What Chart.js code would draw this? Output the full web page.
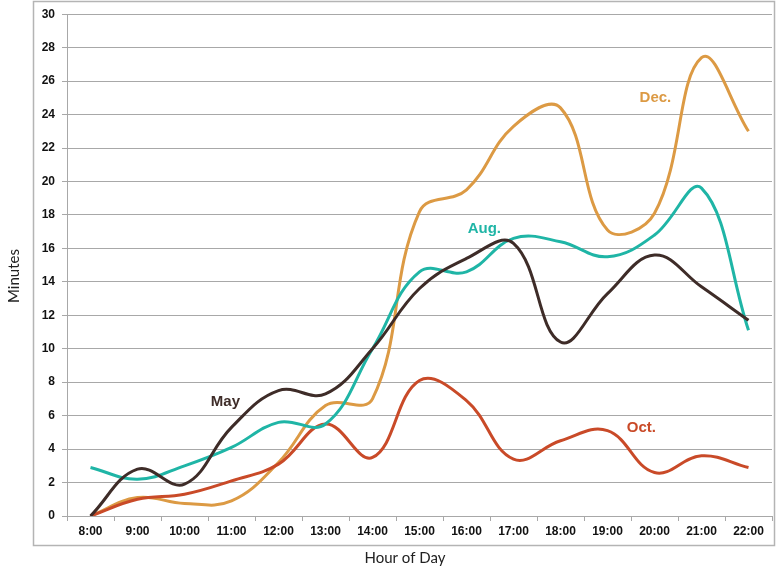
<!DOCTYPE html>
<html>
<head>
<meta charset="utf-8">
<script src="https://cdn.jsdelivr.net/npm/chart.js@4/dist/chart.umd.min.js"></script>
<style>
  html, body { margin: 0; padding: 0; background: #fff; }
  #wrap { width: 778px; height: 572px; }
</style>
</head>
<body>
<div id="wrap"><canvas id="ChartDetail"></canvas></div>
<script>
var hours = ['8:00', '9:00', '10:00', '11:00', '12:00', '13:00', '14:00', '15:00',
             '16:00', '17:00', '18:00', '19:00', '20:00', '21:00', '22:00'];

var may = [0, 2.8, 1.9, 5.3, 7.5, 7.3, 10.0, 13.6, 15.4, 16.3, 10.4, 13.3, 15.6, 13.7, 11.7];
var aug = [2.9, 2.2, 3.0, 4.1, 5.6, 5.5, 10.0, 14.6, 14.6, 16.6, 16.4, 15.5, 16.8, 19.6, 11.1];
var oct = [0, 1.0, 1.3, 2.1, 3.1, 5.5, 3.5, 8.1, 6.9, 3.4, 4.5, 5.1, 2.6, 3.6, 2.9];
var dec = [0, 1.1, 0.75, 0.9, 3.2, 6.6, 7.0, 18.2, 19.5, 23.3, 24.4, 17.1, 18.1, 27.4, 23.0];

var yTicks = [0, 2, 4, 6, 8, 10, 12, 14, 16, 18, 20, 22, 24, 26, 28, 30];

var xTitle = 'Hour of Day';
var yTitle = 'Minutes';

// series names drawn next to the lines: [text, category index, value]
var seriesLabels = [
    ['May', 2.87, 6.85],
    ['Aug.', 8.38, 17.15],
    ['Oct.', 11.72, 5.25],
    ['Dec.', 12.02, 25.0]
];

var colors = ['#3e2c28', '#1fb5a6', '#c94a28', '#dc9a44'];
var gridColor = '#a8a8a8';
var tickFont = { family: '"Liberation Sans", Arial, sans-serif', size: 12, weight: 'bold' };

var framePlugin = {
    id: 'frame',
    beforeDraw: function(chart) {
        var ctx = chart.ctx;
        ctx.save();
        ctx.fillStyle = '#fff';
        ctx.fillRect(0, 0, chart.width, chart.height);
        ctx.strokeStyle = '#b4b4b4';
        ctx.lineWidth = 1.5;
        ctx.strokeRect(33.5, 1.5, 741, 544);
        ctx.restore();
    },
    afterDraw: function(chart) {
        var ctx = chart.ctx;
        var xs = chart.scales.x, ys = chart.scales.y;
        ctx.save();
        // axis titles
        ctx.fillStyle = '#222';
        ctx.font = '15px Lato, "DejaVu Sans", sans-serif';
        ctx.textAlign = 'center';
        ctx.textBaseline = 'middle';
        ctx.fillText(xTitle, 405, 558);
        ctx.translate(14, 276);
        ctx.rotate(-Math.PI / 2);
        ctx.fillText(yTitle, 0, 0);
        ctx.restore();

        // series labels
        ctx.save();
        ctx.font = 'bold 15px "Liberation Sans", Arial, sans-serif';
        ctx.textAlign = 'center';
        ctx.textBaseline = 'middle';
        seriesLabels.forEach(function(l, i) {
            ctx.fillStyle = colors[i];
            ctx.fillText(l[0], xs.getPixelForValue(l[1]), ys.getPixelForValue(l[2]));
        });
        ctx.restore();
    }
};

function line(label, data, color) {
    return {
        label: label,
        data: data,
        borderColor: color,
        backgroundColor: color,
        borderWidth: 3,
        pointRadius: 0,
        tension: 0.4,
        fill: false
    };
}

var config = {
    type: 'line',
    data: {
        labels: hours,
        datasets: [
            line('May', may, colors[0]),
            line('Aug.', aug, colors[1]),
            line('Oct.', oct, colors[2]),
            line('Dec.', dec, colors[3])
        ]
    },
    options: {
        responsive: true,
        maintainAspectRatio: false,
        animation: false,
        layout: { padding: { top: 14, right: 6, bottom: 0, left: 0 } },
        plugins: {
            legend: { display: false },
            tooltip: { enabled: false }
        },
        scales: {
            x: {
                offset: true,
                afterFit: function(s) { s.height = 56; },
                grid: {
                    offset: true,
                    drawOnChartArea: false,
                    drawTicks: true,
                    tickLength: 5,
                    color: gridColor
                },
                border: { color: gridColor, width: 1 },
                ticks: { color: '#111', font: tickFont, padding: 3, maxRotation: 0, autoSkip: false }
            },
            y: {
                min: 0,
                max: 30,
                afterFit: function(s) { s.width = 67; },
                afterBuildTicks: function(s) {
                    s.ticks = yTicks.map(function(v) { return { value: v }; });
                },
                grid: { color: gridColor, tickLength: 5 },
                border: { color: gridColor, width: 1 },
                ticks: { color: '#111', font: tickFont, padding: 7 }
            }
        }
    },
    plugins: [framePlugin]
};

window.onload = function() {
    var ctx = document.getElementById('ChartDetail').getContext('2d');
    window.myLine = new Chart(ctx, config);
};
</script>
</body>
</html>
